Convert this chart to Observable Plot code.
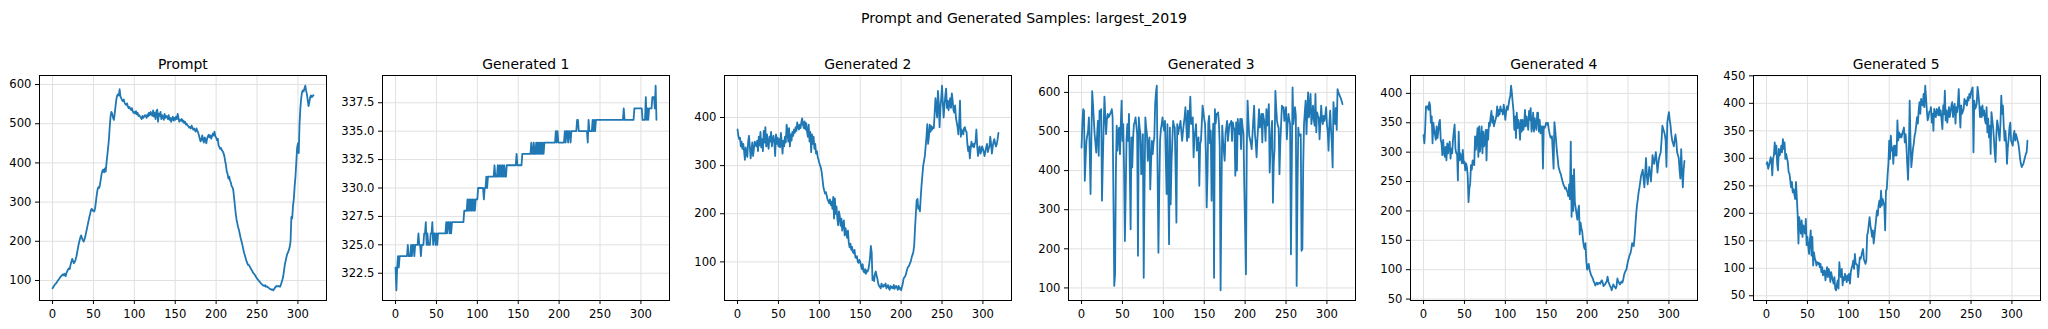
<!DOCTYPE html>
<html><head><meta charset="utf-8">
<script src="https://cdn.jsdelivr.net/npm/d3@7"></script>
<script src="https://cdn.jsdelivr.net/npm/@observablehq/plot@0.6"></script>
<style>
body{margin:0;background:#fff;}
#root{position:relative;width:2048px;height:329px;overflow:hidden;font-family:"DejaVu Sans",sans-serif;color:#000;background:#fff;}
.sup{position:absolute;left:0;width:2048px;text-align:center;font-size:14.1px;line-height:16px;top:10.1px;white-space:nowrap;}
.ttl{position:absolute;text-align:center;font-size:13.9px;line-height:16px;top:55.9px;width:287px;white-space:nowrap;}
.panel{position:absolute;width:343px;height:259px;}
</style></head><body><div id="root"></div>
<script>
const suptitle = "Prompt and Generated Samples: largest_2019";
const titles = ["Prompt","Generated 1","Generated 2","Generated 3","Generated 4","Generated 5"];
const xTicks = [0,50,100,150,200,250,300];

const prompt = [
80,83,87,90,92,95,98,101,104,107,110,112,114,116,113,117,111,119,124,128,
131,129,140,148,155,150,144,147,152,160,170,182,193,202,210,215,208,203,199,205,
212,222,232,242,252,262,270,280,283,278,279,276,284,300,318,332,338,336,345,358,
372,380,383,376,386,378,400,420,440,462,495,520,530,526,515,510,525,545,562,572,
575,572,588,570,565,560,558,562,554,550,548,552,545,540,543,538,535,540,532,528,
530,526,532,524,528,520,522,518,516,512,520,515,518,522,520,515,524,519,528,522,
530,525,520,534,518,528,512,532,536,505,526,520,530,512,522,518,510,525,515,520,
518,512,522,510,515,505,512,518,508,515,510,518,512,525,515,505,510,508,512,505,
508,502,505,498,500,496,494,490,492,488,495,490,485,488,484,480,488,482,478,470,
462,455,460,470,458,452,465,460,450,462,468,472,465,470,462,468,475,470,480,468,
465,458,462,445,440,436,438,432,430,425,418,405,395,378,372,360,365,355,350,340,
338,330,310,290,270,255,245,235,228,218,208,200,192,182,172,165,158,150,145,140,
140,136,132,128,125,120,118,115,112,108,105,102,100,97,95,92,90,88,87,86,
88,84,85,83,82,80,78,78,76,77,75,78,82,84,86,85,86,85,84,88,
95,102,110,125,140,150,160,168,172,178,186,200,262,258,290,308,340,365,400,438,
450,425,500,540,565,580,585,582,590,597,585,575,560,545,555,568,572,568,570,573];

const gen1 = [
323,321,323,324,323,324,324,324,324,324,324,324,324,324,324,325,324,324,324,325,
324,325,325,324,325,325,325,325,326,325,325,324,325,325,325,326,326,327,325,326,
325,325,325,326,326,327,325,326,326,325,326,325,326,326,326,326,326,326,326,326,
326,326,327,326,327,327,326,327,326,327,327,327,327,327,327,327,327,327,327,327,
327,327,327,327,328,328,328,328,329,328,329,328,329,328,329,328,329,328,329,329,
329,330,330,330,330,330,330,330,329,330,330,331,330,331,331,331,331,331,331,331,
331,332,331,331,331,332,331,332,331,332,331,332,331,332,331,331,332,332,332,332,
332,332,332,332,332,332,332,332,333,332,332,332,332,332,332,333,333,333,333,333,
333,333,333,333,333,333,334,333,333,334,333,333,334,333,334,333,334,333,334,333,
334,333,334,334,334,334,334,334,334,334,334,334,334,334,334,334,335,334,335,334,
334,334,334,334,334,334,334,335,334,335,335,334,335,335,334,335,335,335,335,335,
335,335,336,336,335,335,335,335,335,335,335,335,335,335,335,334,336,335,335,335,
335,336,335,336,335,336,336,336,336,336,336,336,336,336,336,336,336,336,336,336,
336,336,336,336,336,336,336,336,336,336,336,336,336,336,336,336,336,336,336,337,
336,336,336,336,336,336,336,336,336,336,336,336,337,337,337,337,337,337,337,337,
337,337,336,336,336,336,338,336,337,336,337,337,337,337,338,338,338,337,339,336];

const gen2 = [
375,362,355,358,340,350,335,345,330,312,338,325,318,350,362,340,315,330,348,320,
335,350,345,340,352,330,360,342,370,338,355,330,372,348,380,340,365,345,335,360,
350,370,340,355,362,348,320,365,345,358,340,355,338,368,350,325,352,340,360,348,
385,372,350,378,340,365,352,370,362,375,368,380,372,390,380,375,385,378,390,398,
385,378,392,375,388,370,360,385,350,370,328,365,345,360,335,345,325,330,318,312,
305,300,295,285,270,255,248,242,245,238,230,226,222,230,218,225,210,235,190,232,
200,215,190,176,205,195,175,190,165,180,186,155,170,160,150,165,140,130,138,125,
131,120,118,125,110,108,112,100,98,104,100,92,85,95,80,78,85,75,82,80,
85,95,110,133,120,62,70,60,75,80,72,65,55,50,48,45,55,50,48,52,
50,55,45,48,52,45,42,50,46,48,45,52,44,48,50,46,42,50,44,46,
41,48,55,65,68,70,75,82,88,90,93,98,102,110,115,121,135,170,200,228,
231,210,215,205,235,260,280,300,310,320,340,360,386,345,360,385,370,382,375,380,
378,410,440,420,400,455,430,380,420,440,466,430,400,425,445,460,420,435,415,430,
440,420,450,435,415,410,425,400,390,380,365,390,435,360,375,370,365,378,380,372,
370,345,330,340,315,335,350,340,345,338,345,350,375,340,320,335,340,325,330,340,
335,328,320,330,338,345,328,335,340,360,345,325,340,350,355,345,340,345,355,368];

const gen3 = [
459,520,557,553,374,430,476,490,502,536,450,340,480,603,570,530,493,470,446,490,
527,438,553,540,557,323,420,510,589,540,493,530,545,536,540,545,550,557,536,330,
105,135,400,515,451,500,510,442,520,579,476,519,400,220,344,480,519,476,545,400,
250,485,408,480,519,523,536,515,493,182,536,510,493,391,440,493,126,350,536,510,
493,425,470,485,352,420,476,442,470,485,570,600,617,391,190,350,476,505,519,536,
515,502,527,430,340,519,370,212,510,314,420,476,527,515,510,400,267,519,493,505,
515,527,500,476,500,519,536,562,520,476,553,485,540,589,519,530,536,434,485,500,
519,451,470,485,361,468,476,520,566,550,532,519,450,306,391,523,540,470,502,323,
450,520,126,557,520,545,545,549,520,460,94,330,515,476,450,425,493,510,527,476,
500,519,520,527,476,523,510,506,387,523,400,532,500,493,532,455,532,510,493,357,
250,135,450,579,530,489,480,470,455,493,530,566,493,470,434,480,515,557,510,530,
545,472,545,530,519,476,557,515,540,570,395,451,500,527,318,420,455,604,560,527,
515,510,391,470,519,566,560,562,527,545,562,480,520,545,530,519,186,400,613,519,
540,562,540,105,350,510,489,490,493,195,200,408,519,550,579,493,550,600,536,560,
596,519,540,566,530,515,596,498,549,540,536,480,520,566,530,519,540,527,540,562,
519,500,451,520,553,506,470,408,575,540,519,560,504,608,600,595,590,585,578,570];

const gen4 = [
329,315,340,378,376,378,372,385,380,350,361,315,350,338,330,321,344,324,335,350,
355,321,315,295,321,300,292,309,286,315,298,310,318,289,306,298,321,335,347,306,
298,298,252,335,286,298,290,281,304,281,284,269,281,275,260,215,238,246,278,270,
286,281,278,327,304,320,341,292,344,301,320,344,298,335,310,321,338,286,338,321,
350,344,360,370,350,361,344,350,355,361,378,361,372,364,378,370,372,364,381,370,
355,370,378,372,381,390,395,413,401,384,370,338,361,324,367,341,355,345,321,355,
335,355,338,345,372,344,361,350,338,370,355,375,335,344,367,335,358,345,338,367,
367,335,355,332,344,344,272,344,341,345,350,347,350,340,332,326,324,327,300,272,
351,337,320,302,290,275,270,265,262,255,250,245,242,238,240,235,232,225,245,220,
318,190,260,200,271,215,205,195,185,200,209,160,180,170,165,150,140,135,145,115,
100,105,110,100,95,90,88,85,80,78,73,76,78,75,77,78,76,80,82,78,
72,74,75,78,80,88,80,76,72,70,65,70,75,72,70,68,72,85,80,78,
75,77,80,78,82,90,95,98,100,108,115,120,125,128,135,145,142,140,155,175,
195,210,220,232,240,250,260,265,270,255,240,265,290,260,245,260,275,265,250,270,
295,285,280,290,300,285,265,280,290,295,300,320,345,340,335,330,320,275,350,360,
368,355,345,330,320,315,310,320,330,320,300,295,290,270,255,305,270,240,270,285];

const gen5 = [
290,293,281,287,292,302,296,269,300,305,329,308,323,290,278,317,305,310,323,311,
335,317,329,299,308,300,293,275,272,260,247,257,238,244,235,226,257,229,199,145,
193,180,163,187,157,178,170,163,190,142,157,140,126,151,169,123,157,105,129,118,
114,105,111,108,110,102,108,93,102,87,95,96,78,90,102,84,99,92,75,93,
84,78,72,84,63,60,70,78,63,111,90,84,99,69,84,78,90,82,75,87,
78,90,72,93,100,105,114,99,126,108,108,105,84,102,120,117,123,130,135,117,
112,108,114,160,166,180,193,178,169,157,169,145,160,175,190,205,196,215,223,211,
241,214,226,220,214,169,241,244,270,290,332,299,341,314,320,290,323,305,323,305,
369,332,347,338,344,338,345,350,356,329,344,323,290,261,308,405,332,284,300,317,
326,341,347,360,375,363,387,402,381,408,400,396,417,393,432,411,387,369,375,385,
385,393,365,381,350,390,380,375,390,387,378,393,378,387,370,353,396,380,423,369,
387,365,380,393,375,384,396,402,375,390,399,363,393,384,400,426,387,356,396,381,
385,390,408,399,405,396,411,405,417,410,420,425,429,311,405,390,393,400,430,417,
400,375,393,375,396,378,387,370,363,393,347,372,338,359,308,384,370,356,335,310,
293,344,369,359,345,332,363,414,381,396,360,332,350,329,290,320,335,356,365,332,
328,323,341,350,332,344,338,332,326,314,299,290,284,287,290,296,302,308,311,332];

const yTicksPrompt = [100,200,300,400,500,600];
const yTicksGen1 = [322.5,325,327.5,330,332.5,335,337.5];
const yTicksGen2 = [100,200,300,400];
const yTicksGen3 = [100,200,300,400,500,600];
const yTicksGen4 = [50,100,150,200,250,300,350,400];
const yTicksGen5 = [50,100,150,200,250,300,350,400,450];

const series = [prompt, gen1, gen2, gen3, gen4, gen5];
const yTicks = [yTicksPrompt, yTicksGen1, yTicksGen2, yTicksGen3, yTicksGen4, yTicksGen5];
const yFormats = [d3.format("d"), d3.format(".1f"), d3.format("d"), d3.format("d"), d3.format("d"), d3.format("d")];

// layout
const frameLefts = [39.3, 382.3, 724.3, 1067.7, 1410.3, 1752.7];
const frameTop = 75.3, frameW = 287, frameH = 225;
const ml = 50, mr = 6, mt = 6, mb = 28;

const root = document.getElementById("root");
const sup = document.createElement("div");
sup.className = "sup"; sup.textContent = suptitle; root.appendChild(sup);

series.forEach((values, k) => {
  const data = values.map((v, i) => ({x: i, y: v}));
  const lo = d3.min(values), hi = d3.max(values), pad = (hi - lo) * 0.05;
  const n = values.length - 1;
  const chart = Plot.plot({
    width: frameW + ml + mr, height: frameH + mt + mb,
    marginLeft: ml, marginRight: mr, marginTop: mt, marginBottom: mb,
    style: {fontFamily: '"DejaVu Sans", sans-serif', fontSize: "11.6px", color: "#000", background: "transparent", overflow: "visible"},
    x: {domain: [-0.05 * n, 1.05 * n], ticks: xTicks, tickSize: 4, tickPadding: 5, label: null, tickFormat: d3.format("d")},
    y: {domain: [lo - pad, hi + pad], ticks: yTicks[k], tickSize: 4, tickPadding: 4, label: null, tickFormat: yFormats[k]},
    marks: [
      Plot.ruleX(xTicks, {stroke: "#e0e0e0", strokeWidth: 1}),
      Plot.ruleY(yTicks[k], {stroke: "#e0e0e0", strokeWidth: 1}),
      Plot.line(data, {x: "x", y: "y", stroke: "#1f77b4", strokeWidth: 1.8}),
      Plot.frame({stroke: "#000", strokeWidth: 1})
    ]
  });
  const div = document.createElement("div");
  div.className = "panel";
  div.style.left = (frameLefts[k] - ml) + "px";
  div.style.top = (frameTop - mt) + "px";
  div.appendChild(chart);
  root.appendChild(div);
  const t = document.createElement("div");
  t.className = "ttl"; t.textContent = titles[k];
  t.style.left = frameLefts[k] + "px";
  root.appendChild(t);
});
</script></body></html>
